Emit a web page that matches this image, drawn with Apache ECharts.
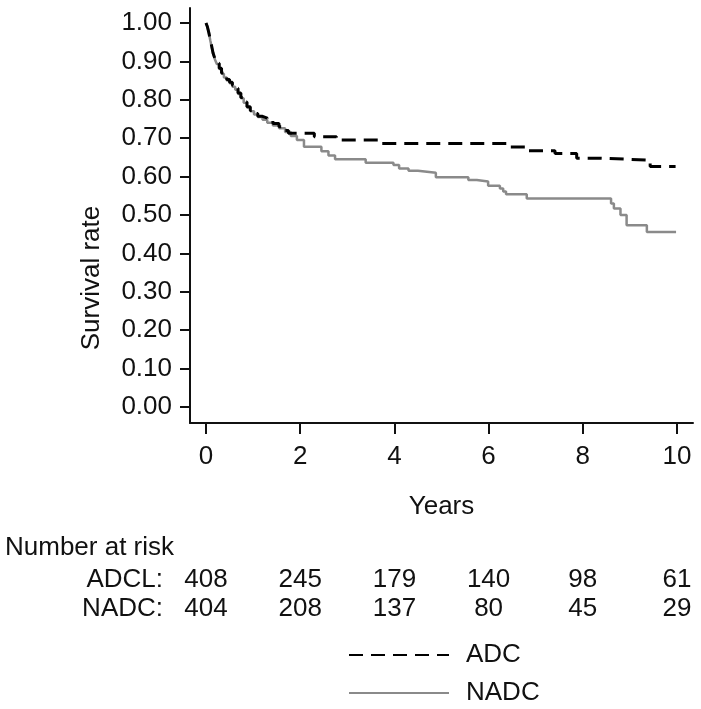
<!DOCTYPE html>
<html>
<head>
<meta charset="utf-8">
<script src="https://cdn.jsdelivr.net/npm/echarts@6/dist/echarts.min.js"></script>
<style>
html,body{margin:0;padding:0;background:#fff;}
#chart{width:701px;height:709px;}
</style>
</head>
<body>
<div id="chart"></div>
<script>
// ---- data ----
var adcTimes = [0, 0.03, 0.06, 0.09, 0.12, 0.15, 0.19, 0.23, 0.28, 0.33, 0.38, 0.44, 0.5, 0.56, 0.62, 0.68, 0.74, 0.8, 0.87, 0.94, 1.02, 1.1, 1.2, 1.3, 1.42, 1.55, 1.65, 1.75, 2.3, 2.77, 3.69, 6.38, 6.81, 7.41, 7.87, 8.37, 9.43, 9.97];
var adcSurv  = [1.0, 0.99, 0.975, 0.957, 0.94, 0.922, 0.907, 0.895, 0.882, 0.87, 0.86, 0.853, 0.846, 0.838, 0.83, 0.818, 0.806, 0.794, 0.782, 0.772, 0.764, 0.757, 0.752, 0.745, 0.738, 0.73, 0.72, 0.713, 0.704, 0.695, 0.686, 0.677, 0.667, 0.66, 0.648, 0.643, 0.626, 0.626];
var nadcTimes = [0, 0.03, 0.06, 0.09, 0.12, 0.15, 0.19, 0.23, 0.28, 0.33, 0.38, 0.44, 0.5, 0.56, 0.62, 0.68, 0.74, 0.8, 0.87, 0.94, 1.02, 1.1, 1.2, 1.3, 1.42, 1.55, 1.68, 1.8, 1.93, 2.08, 2.45, 2.6, 2.74, 3.39, 3.98, 4.1, 4.3, 4.5, 4.88, 5.57, 5.75, 5.99, 6.24, 6.31, 6.37, 6.81, 8.6, 8.66, 8.8, 8.93, 9.36, 9.98];
var nadcSurv  = [1.0, 0.99, 0.975, 0.955, 0.938, 0.92, 0.905, 0.893, 0.88, 0.868, 0.858, 0.85, 0.843, 0.834, 0.826, 0.815, 0.804, 0.792, 0.78, 0.77, 0.762, 0.755, 0.748, 0.74, 0.733, 0.726, 0.716, 0.706, 0.695, 0.678, 0.666, 0.655, 0.645, 0.636, 0.63, 0.621, 0.615, 0.61, 0.598, 0.591, 0.587, 0.576, 0.569, 0.561, 0.554, 0.543, 0.53, 0.517, 0.5, 0.473, 0.456, 0.456];
var riskTimes = [0, 2, 4, 6, 8, 10];
var riskRows = ['ADCL:', 'NADC:'];
var riskADCL = [408, 245, 179, 140, 98, 61];
var riskNADC = [404, 208, 137, 80, 45, 29];
var seriesNames = ['ADC', 'NADC'];

// ---- build ----
function pairs(t, s) { return t.map(function (v, i) { return [v, s[i]]; }); }
var riskData = [];
riskTimes.forEach(function (t, i) {
  riskData.push([t, riskRows[0], riskADCL[i]]);
  riskData.push([t, riskRows[1], riskNADC[i]]);
});

var FONT = '"Liberation Sans", Arial, Helvetica, sans-serif';
var TXT = '#111';

function legendBlock(name, top) {
  return {
    data: [name],
    orient: 'vertical',
    left: 343, top: top,
    itemWidth: 100, itemHeight: 20,
    itemStyle: { opacity: 0 },
    textStyle: { fontSize: 26, color: TXT, fontFamily: FONT, padding: [0, 0, 0, 12], lineHeight: 26 }
  };
}

var chart = echarts.init(document.getElementById('chart'));
chart.setOption({
  backgroundColor: '#fff',
  animation: false,
  textStyle: { fontFamily: FONT },
  grid: [
    { left: 206, right: 24, top: 23, bottom: 302 },
    { left: 190, right: 8, top: 8, bottom: 286 },
    { left: 206, right: 24, top: 565.5, height: 58 }
  ],
  xAxis: [
    {
      gridIndex: 0, type: 'value', min: 0, max: 10, interval: 2, offset: 16,
      name: 'Years', nameLocation: 'middle', nameGap: 71,
      nameTextStyle: { fontSize: 26, color: TXT, fontFamily: FONT },
      axisLine: { show: true, onZero: false, lineStyle: { color: 'rgba(0,0,0,0)', width: 2 } },
      axisTick: { show: true, length: 11, lineStyle: { color: '#111', width: 2 } },
      axisLabel: { fontSize: 26, color: TXT, margin: 21, fontFamily: FONT },
      splitLine: { show: false }
    },
    {
      gridIndex: 1, type: 'value', min: 0, max: 1,
      axisLine: { show: true, onZero: false, lineStyle: { color: '#111', width: 2 } },
      axisTick: { show: false }, axisLabel: { show: false }, splitLine: { show: false }
    },
    {
      gridIndex: 2, type: 'value', min: 0, max: 10, show: false
    }
  ],
  yAxis: [
    {
      gridIndex: 0, type: 'value', min: 0, max: 1, interval: 0.1, offset: 16,
      axisLine: { show: true, onZero: false, lineStyle: { color: 'rgba(0,0,0,0)', width: 2 } },
      axisTick: { show: true, length: 10, lineStyle: { color: '#111', width: 2 } },
      axisLabel: { fontSize: 26, color: TXT, margin: 18, fontFamily: FONT,
        formatter: function (v) { return v.toFixed(2); } },
      splitLine: { show: false }
    },
    {
      gridIndex: 1, type: 'value', min: 0, max: 1,
      axisLine: { show: true, onZero: false, lineStyle: { color: '#111', width: 2 } },
      axisTick: { show: false }, axisLabel: { show: false }, splitLine: { show: false }
    },
    {
      gridIndex: 2, type: 'category', data: riskRows, inverse: true,
      axisLine: { show: false }, axisTick: { show: false }, splitLine: { show: false },
      axisLabel: { fontSize: 26, color: TXT, margin: 43, fontFamily: FONT, interval: 0, hideOverlap: false }
    }
  ],
  legend: [legendBlock(seriesNames[0], 637), legendBlock(seriesNames[1], 675)],
  graphic: [
    {
      type: 'text', x: 92, y: 278, rotation: Math.PI / 2,
      style: { text: 'Survival rate', fontSize: 26, fill: TXT, fontFamily: FONT,
        align: 'center', verticalAlign: 'middle' }
    },
    {
      type: 'text', left: 5, top: 535,
      style: { text: 'Number at risk', fontSize: 26, fill: TXT, fontFamily: FONT }
    }
  ],
  series: [
    {
      name: seriesNames[0], type: 'line', step: 'end', symbol: 'none', showSymbol: false,
      xAxisIndex: 0, yAxisIndex: 0,
      data: pairs(adcTimes, adcSurv),
      lineStyle: { color: '#000', width: 3, type: [14, 8] },
      itemStyle: { color: '#000' },
      z: 3
    },
    {
      name: seriesNames[1], type: 'line', step: 'end', symbol: 'none', showSymbol: false,
      xAxisIndex: 0, yAxisIndex: 0,
      data: pairs(nadcTimes, nadcSurv),
      lineStyle: { color: '#8a8a8a', width: 2.5 },
      itemStyle: { color: '#8a8a8a' },
      z: 2
    },
    {
      name: 'risk', type: 'scatter', xAxisIndex: 2, yAxisIndex: 2,
      symbolSize: 0, itemStyle: { color: '#fff', opacity: 1 },
      encode: { x: 0, y: 1 },
      data: riskData,
      silent: true,
      z: 5,
      label: { show: true, position: 'inside', fontSize: 26, color: '#111', opacity: 1, fontFamily: FONT,
        textBorderWidth: 0,
        formatter: function (p) { return String(p.value[2]); } }
    }
  ]
});
</script>
</body>
</html>
